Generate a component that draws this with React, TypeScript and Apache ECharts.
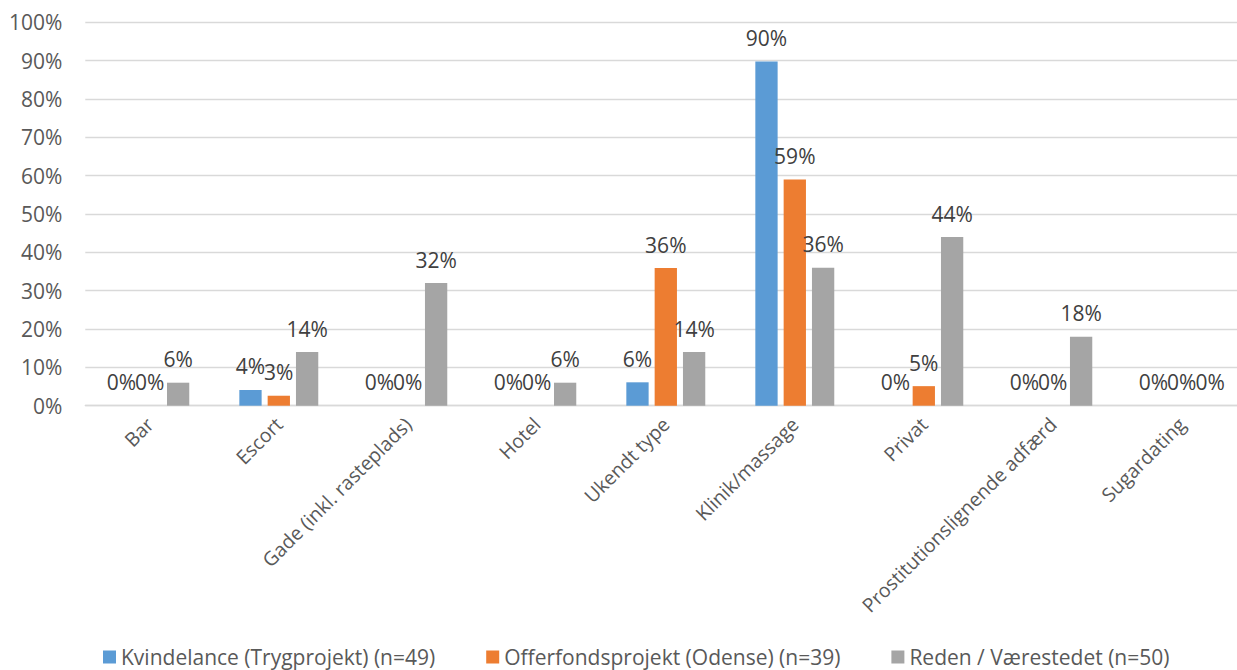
import React, { useEffect, useRef } from "react";
import * as echarts from "echarts";

const categories = [
  "Bar",
  "Escort",
  "Gade (inkl. rasteplads)",
  "Hotel",
  "Ukendt type",
  "Klinik/massage",
  "Privat",
  "Prostitutionslignende adfærd",
  "Sugardating",
];
const seriesNames = [
  "Kvindelance (Trygprojekt) (n=49)",
  "Offerfondsprojekt (Odense) (n=39)",
  "Reden / Værestedet (n=50)",
];
const kvindelance = [0, 4.1, 0, 0, 6.1, 89.8, 0, 0, 0];
const offerfond = [0, 2.6, 0, 0, 35.9, 59.0, 5.1, 0, 0];
const reden = [6, 14, 32, 6, 14, 36, 44, 18, 0];
const colors = ["#5B9BD5", "#ED7D31", "#A5A5A5"];

const FONT = "'Open Sans', 'Noto Sans', sans-serif";

export default function App() {
  const ref = useRef<HTMLDivElement>(null);
  useEffect(() => {
    if (!ref.current) return;
    const chart = echarts.init(ref.current, null, { renderer: "svg" });
    const data = [kvindelance, offerfond, reden];
    chart.setOption({
      animation: false,
      textStyle: { fontFamily: FONT },
      grid: {
        left: 85.3,
        top: 22.3,
        right: -9.3,
        bottom: 264.3,
        outerBoundsMode: "none",
        containLabel: false,
      },
      legend: {
        left: 103,
        bottom: 2.5,
        padding: 0,
        icon: "rect",
        itemWidth: 13,
        itemHeight: 13,
        itemGap: 51,
        textStyle: { fontSize: 21, color: "#595959", fontFamily: FONT },
        data: seriesNames,
      },
      xAxis: {
        type: "category",
        data: categories,
        axisTick: { show: false },
        axisLine: { lineStyle: { color: "#D9D9D9", width: 1.3 } },
        axisLabel: {
          interval: 0,
          rotate: 45,
          margin: 15,
          fontSize: 19.5,
          color: "#595959",
          fontFamily: FONT,
        },
      },
      yAxis: {
        type: "value",
        min: 0,
        max: 100,
        interval: 10,
        axisLine: { show: false },
        axisTick: { show: false },
        splitLine: { lineStyle: { color: "#D9D9D9", width: 1.3 } },
        axisLabel: {
          formatter: "{value}%",
          margin: 23,
          fontSize: 21,
          color: "#595959",
          fontFamily: FONT,
        },
      },
      series: data.map((d, i) => ({
        name: seriesNames[i],
        type: "bar",
        data: d,
        barWidth: 22.3,
        barGap: "27%",
        itemStyle: { color: colors[i] },
        label: {
          show: true,
          position: "top",
          distance: 13,
          fontSize: 21,
          lineHeight: 21,
          color: "#404040",
          fontFamily: FONT,
          formatter: (p: any) => Math.round(p.value) + "%",
        },
      })),
    });
    return () => chart.dispose();
  }, []);
  return (
    <div
      ref={ref}
      style={{ position: "fixed", left: 0, top: 0, width: 1237, height: 670, background: "#fff" }}
    />
  );
}
